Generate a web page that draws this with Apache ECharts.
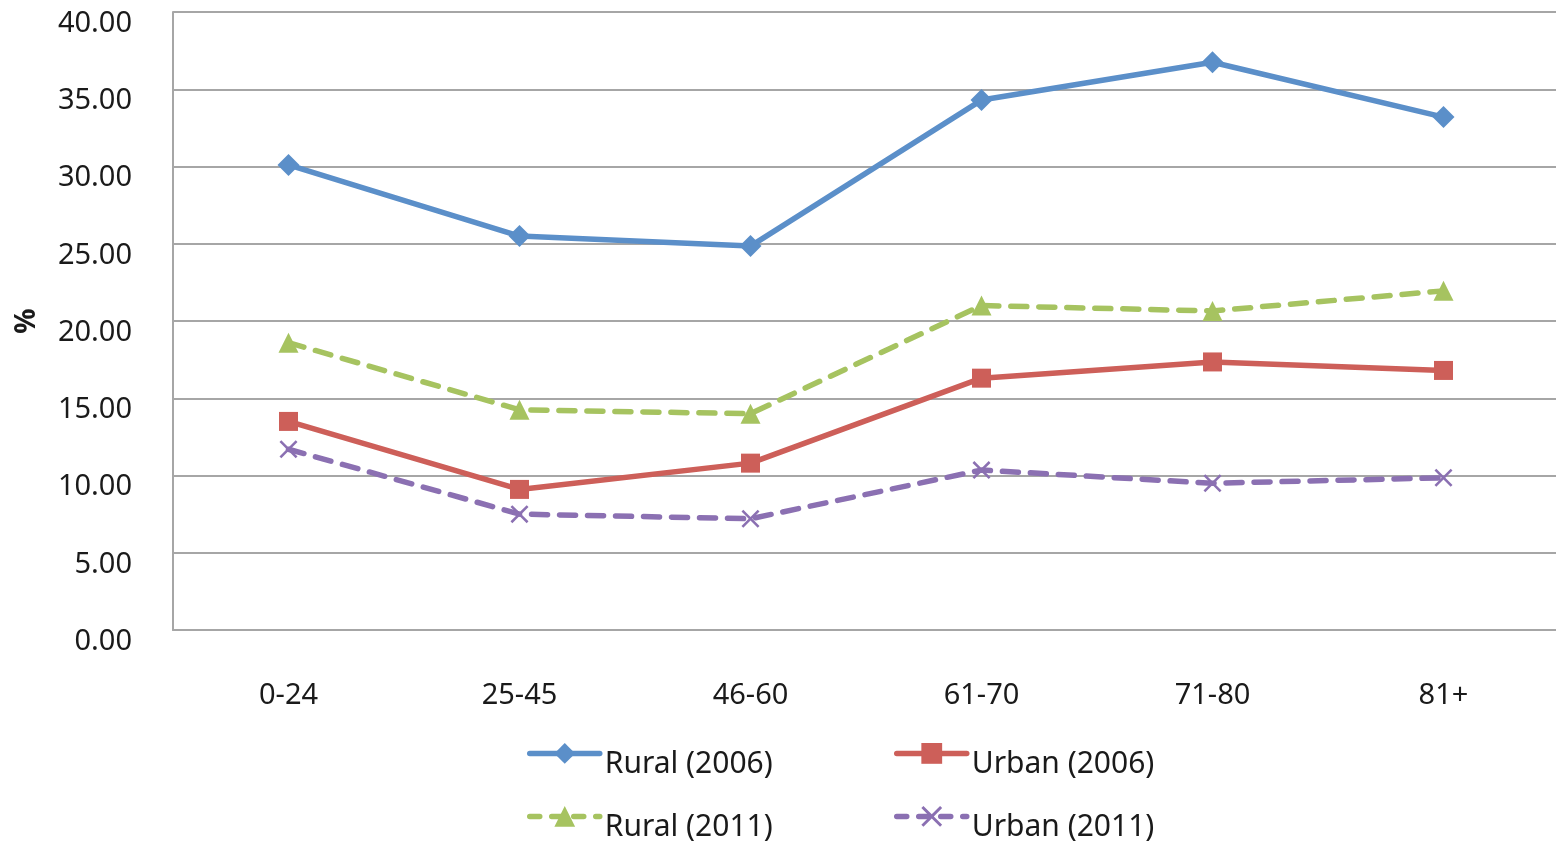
<!DOCTYPE html>
<html>
<head>
<meta charset="utf-8">
<script src="https://cdn.jsdelivr.net/npm/echarts@6/dist/echarts.min.js"></script>
<style>
  html, body { margin: 0; padding: 0; background: #fff; }
  #chart { width: 1556px; height: 843px; }
</style>
</head>
<body>
<div id="chart"></div>
<script>
// Age groups on the category axis
const categories = ['0-24', '25-45', '46-60', '61-70', '71-80', '81+'];

// Percentages per age group
const rural2006 = [30.1, 25.5, 24.85, 34.3, 36.75, 33.2];
const urban2006 = [13.5, 9.1, 10.8, 16.3, 17.35, 16.8];
const rural2011 = [18.6, 14.25, 14.0, 21.0, 20.65, 21.95];
const urban2011 = [11.7, 7.5, 7.2, 10.35, 9.5, 9.85];

const seriesNames = ['Rural (2006)', 'Urban (2006)', 'Rural (2011)', 'Urban (2011)'];

const FONT = '"Noto Sans", "Open Sans", sans-serif';
const TEXT = '#1a1a1a';
const GRID_GRAY = '#a6a6a6';

const COLORS = {
  blue: '#5b8fc9',
  red: '#cd5f59',
  green: '#a6c360',
  purple: '#8b70b2'
};

const crossPath = 'path://M1,0 L5,4 L9,0 L10,1 L6,5 L10,9 L9,10 L5,6 L1,10 L0,9 L4,5 L0,1 Z';
const DASH = [16, 12];

function lineSeries(name, data, color, symbol, size, dashed) {
  return {
    name: name,
    type: 'line',
    data: data,
    symbol: symbol,
    symbolSize: size,
    showAllSymbol: true,
    lineStyle: {
      color: color,
      width: 5.5,
      type: dashed ? DASH : 'solid',
      cap: 'round'
    },
    itemStyle: { color: color },
    emphasis: { disabled: true },
    animation: false
  };
}

// One legend block per entry so the 2x2 arrangement can be placed freely
function legendAt(name, left, top, dashed) {
  return {
    data: [name],
    left: left,
    top: top,
    itemWidth: 70,
    itemHeight: 26,
    itemGap: 0,
    padding: 0,
    lineStyle: { width: 5.5, type: dashed ? [10, 12] : 'solid', cap: 'round' },
    formatter: n => '{t|' + n + '}',
    textStyle: {
      fontFamily: FONT, fontSize: 30, color: TEXT,
      rich: { t: { fontFamily: FONT, fontSize: 30, color: TEXT, padding: [22, 0, 0, 0] } }
    },
    selectedMode: false
  };
}

const chart = echarts.init(document.getElementById('chart'), null, { renderer: 'canvas' });

chart.setOption({
  backgroundColor: '#ffffff',
  animation: false,
  grid: {
    left: 173, top: 12, width: 1386, height: 618,
    containLabel: false, outerBoundsMode: 'none'
  },
  legend: [
    legendAt(seriesNames[0], 527, 743, false),
    legendAt(seriesNames[1], 894, 743, false),
    legendAt(seriesNames[2], 527, 806, true),
    legendAt(seriesNames[3], 894, 806, true)
  ],
  xAxis: {
    type: 'category',
    data: categories,
    boundaryGap: true,
    axisLine: { show: true, lineStyle: { color: GRID_GRAY, width: 2 } },
    axisTick: { show: false },
    axisLabel: { fontFamily: FONT, fontSize: 29, color: TEXT, margin: 51 }
  },
  yAxis: {
    type: 'value',
    min: 0,
    max: 40,
    interval: 5,
    name: '%',
    nameLocation: 'middle',
    nameRotate: 90,
    nameGap: 132,
    nameTextStyle: { fontFamily: FONT, fontSize: 28, fontWeight: 'bold', color: TEXT },
    axisLine: { show: true, lineStyle: { color: GRID_GRAY, width: 2 } },
    axisTick: { show: false },
    splitLine: { show: true, lineStyle: { color: GRID_GRAY, width: 2 } },
    axisLabel: {
      fontFamily: FONT, fontSize: 29, color: TEXT, margin: 41,
      verticalAlign: 'top', lineHeight: 23,
      formatter: v => v.toFixed(2)
    }
  },
  series: [
    lineSeries(seriesNames[0], rural2006, COLORS.blue, 'diamond', 22, false),
    lineSeries(seriesNames[1], urban2006, COLORS.red, 'rect', 19, false),
    lineSeries(seriesNames[2], rural2011, COLORS.green, 'triangle', 20, true),
    lineSeries(seriesNames[3], urban2011, COLORS.purple, crossPath, 18, true)
  ]
});
</script>
</body>
</html>
